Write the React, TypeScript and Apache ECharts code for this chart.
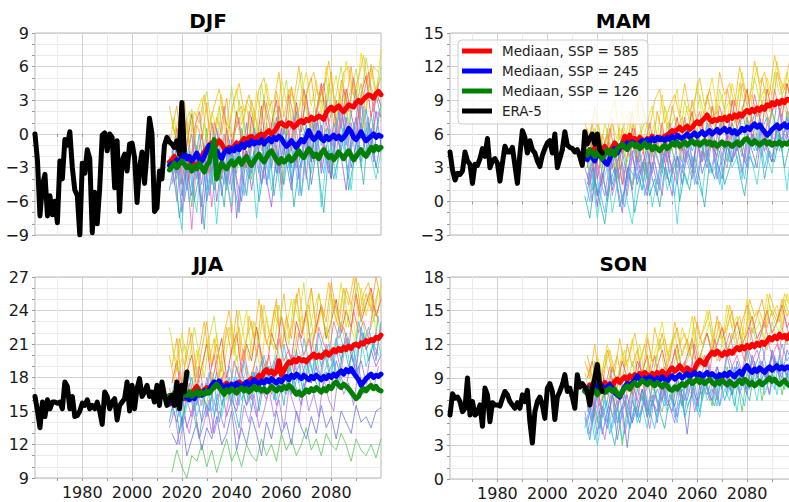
import React, { useEffect, useRef } from 'react';
import * as echarts from 'echarts';

// ---------- data ----------
const ERA_START = 1961;
const MED_START = 2015;
const ENS_YEARS = [2016, 2018, 2020, 2022, 2024, 2026, 2028, 2030, 2032, 2034, 2036, 2038, 2040, 2042, 2044, 2046, 2048, 2050, 2052, 2054, 2056, 2058, 2060, 2062, 2064, 2066, 2068, 2070, 2072, 2074, 2076, 2078, 2080, 2082, 2084, 2086, 2088, 2090, 2092, 2094, 2096, 2098, 2100];
const ENS_YEARS_B = [2015, 2017, 2019, 2021, 2023, 2025, 2027, 2029, 2031, 2033, 2035, 2037, 2039, 2041, 2043, 2045, 2047, 2049, 2051, 2053, 2055, 2057, 2059, 2061, 2063, 2065, 2067, 2069, 2071, 2073, 2075, 2077, 2079, 2081, 2083, 2085, 2087, 2089, 2091, 2093, 2095, 2097, 2099];
const X_TICKS = [1970, 1980, 1990, 2000, 2010, 2020, 2030, 2040, 2050, 2060, 2070, 2080, 2090];
const X_LABELS = [1980, 2000, 2020, 2040, 2060, 2080];
const SERIES_NAMES = ['Mediaan, SSP = 585', 'Mediaan, SSP = 245', 'Mediaan, SSP = 126', 'ERA-5'];
const SERIES_COLORS = ['#ff0000', '#0000ff', '#008000', '#000000'];
const ENS_COLORS = ['#e8dc00', '#ff9a1a', '#f03c3c', '#a8e040', '#3a9ae8', '#4cc84c', '#9a5ae0', '#e060c0', '#30d8d8', '#6070e0'];
const ENS_COLORS_B = ['#ffb000', '#c0e020', '#20b0b0', '#b070f0', '#ff6080', '#40b8ff'];

const DJF_YTICKS = [-9, -6, -3, 0, 3, 6, 9];
const MAM_YTICKS = [-3, 0, 3, 6, 9, 12, 15];
const JJA_YTICKS = [9, 12, 15, 18, 21, 24, 27];
const SON_YTICKS = [0, 3, 6, 9, 12, 15, 18];

const DJF_ERA = [0.0, -2.4, -7.3, -4.5, -3.6, -7.3, -5.5, -7.2, -6.0, -7.9,
  -2.4, -4.0, -0.5, -1.0, 0.2, -3.0, -5.0, -5.5, -9.0, -2.6,
  -3.5, -1.4, -2.2, -8.8, -5.2, -8.0, -4.8, -0.1, 0.1, -1.5,
  0.0, -0.3, -4.8, -0.6, -6.9, -2.4, -1.8, -3.3, -0.9, -0.8,
  -2.1, -6.1, -3.0, -1.6, -4.4, -1.7, 1.4, 0.0, -6.9, -6.6,
  -3.3, -4.0, -1.0, -0.3, -0.7, -0.9, -1.2, -0.6, -1.8, 2.8,
  -1.5];
const MAM_ERA = [4.4, 2.8, 1.9, 2.5, 2.4, 2.7, 4.4, 3.6, 3.3, 1.6,
  3.3, 3.2, 3.8, 4.7, 4.0, 5.6, 3.0, 3.6, 3.8, 3.4,
  1.8, 3.4, 4.9, 4.4, 4.4, 4.8, 3.2, 1.6, 4.2, 6.3,
  5.7, 4.3, 5.4, 4.6, 4.3, 3.6, 3.1, 4.1, 4.7, 5.2,
  5.4, 4.3, 6.0, 3.0, 3.8, 4.6, 6.2, 5.0, 4.8, 4.7,
  4.4, 4.6, 4.0, 3.2, 6.2, 5.1, 5.6, 6.0, 5.1, 6.0,
  4.6, 4.3];
const JJA_ERA = [16.3, 15.0, 13.5, 15.8, 14.5, 16.0, 15.2, 15.8, 15.8, 15.7,
  15.8, 15.2, 17.6, 17.2, 15.2, 16.3, 14.5, 14.6, 15.0, 15.7,
  15.5, 16.0, 15.2, 15.5, 15.2, 15.8, 15.0, 13.8, 16.7, 16.3,
  15.2, 15.8, 16.1, 14.2, 15.5, 15.8, 16.1, 17.6, 15.0, 17.3,
  15.2, 17.0, 17.9, 16.3, 16.7, 17.3, 16.3, 16.7, 15.8, 17.3,
  15.5, 17.6, 16.4, 15.5, 16.1, 16.4, 15.5, 17.6, 15.2, 17.3,
  16.7, 18.5];
const SON_ERA = [5.7, 7.6, 7.2, 7.3, 6.9, 6.0, 6.3, 9.0, 5.7, 6.9,
  5.7, 5.9, 6.6, 4.7, 8.1, 7.5, 5.1, 6.8, 6.6, 6.6,
  6.5, 7.2, 7.8, 7.5, 6.9, 6.6, 6.3, 6.8, 6.3, 7.5,
  6.9, 7.9, 5.1, 3.2, 6.0, 6.9, 7.3, 6.6, 5.4, 8.1,
  8.5, 7.8, 5.3, 7.3, 7.8, 8.4, 9.3, 7.8, 8.1, 7.3,
  6.3, 9.3, 8.2, 8.5, 8.2, 7.8, 6.6, 8.1, 9.0, 10.2,
  8.4, 7.8];

// medians 2015..2100
const DJF_585 = [-2.5, -2.3, -2.0, -2.4, -2.6, -2.2, -1.8, -2.0, -2.3, -2.6,
  -2.7, -2.9, -2.5, -2.0, -1.6, -1.3, -1.0, -0.8, -1.2, -0.9,
  -0.6, -0.9, -1.3, -1.5, -1.2, -1.4, -1.1, -0.8, -1.0, -0.7,
  -0.4, -0.6, -0.3, -0.2, -0.5, -0.3, -0.1, 0.0, -0.2, 0.1,
  0.3, 0.0, 0.2, 0.5, 0.9, 1.0, 0.8, 0.7, 1.0, 0.9,
  0.6, 0.8, 1.1, 1.2, 1.0, 1.3, 1.2, 1.5, 1.3, 1.4,
  1.6, 1.5, 1.3, 1.9, 2.2, 2.4, 2.1, 2.3, 2.5, 2.2,
  2.0, 2.3, 2.6, 2.5, 2.4, 2.8, 3.0, 2.8, 3.1, 3.3,
  3.5, 3.4, 3.2, 3.6, 3.8, 3.5];
const DJF_245 = [-2.8, -2.6, -2.7, -2.3, -2.5, -2.0, -1.8, -2.2, -2.0, -2.4,
  -2.1, -1.7, -2.2, -2.4, -2.0, -1.5, -1.0, -1.3, -1.8, -1.5,
  -1.9, -2.2, -1.7, -1.4, -1.6, -1.3, -1.5, -1.1, -1.4, -0.9,
  -1.2, -0.8, -1.0, -0.6, -0.9, -0.7, -0.8, -0.5, -0.9, -0.6,
  -0.4, -0.7, -0.3, -0.5, -0.2, -0.4, -0.8, -1.1, -0.9, -0.6,
  -0.9, -1.2, -0.8, -0.5, -0.7, -0.3, 0.3, -0.2, -0.5, -0.3,
  0.1, -0.4, -0.6, -0.2, -0.5, -0.3, -0.1, -0.4, -0.2, -0.5,
  -0.3, 0.0, 0.5, 0.2, -0.3, -0.5, -0.2, 0.2, -0.3, -0.6,
  -0.4, -0.2, 0.0, -0.3, -0.1, -0.2];
const DJF_126 = [-3.2, -2.9, -2.6, -3.0, -2.7, -2.4, -2.7, -3.0, -2.8, -3.3,
  -2.9, -3.1, -2.6, -3.0, -3.4, -2.8, -2.5, -1.5, -0.5, -4.0,
  -3.2, -2.6, -2.9, -3.1, -2.7, -2.4, -2.8, -2.5, -2.2, -2.7,
  -2.3, -2.0, -2.5, -2.8, -2.4, -2.1, -1.8, -2.2, -2.5, -2.1,
  -1.7, -1.5, -1.9, -2.3, -2.6, -2.2, -2.5, -2.3, -2.0, -2.4,
  -2.2, -1.8, -1.5, -1.9, -2.1, -1.7, -1.3, -1.6, -2.0, -1.8,
  -2.2, -1.7, -1.4, -1.8, -2.1, -1.9, -2.3, -2.0, -1.6, -1.9,
  -2.2, -1.8, -1.5, -1.9, -2.3, -2.0, -1.7, -1.4, -1.8, -2.0,
  -1.6, -1.2, -1.5, -1.1, -1.4, -1.2];

const MAM_585 = [4.5, 4.2, 4.6, 4.3, 4.8, 4.4, 4.1, 4.6, 4.9, 4.5,
  4.3, 4.8, 5.2, 4.9, 4.6, 5.1, 5.8, 5.5, 5.9, 5.3,
  5.6, 5.4, 5.7, 5.5, 5.3, 5.6, 5.5, 5.8, 5.4, 5.6,
  5.7, 5.5, 5.8, 5.9, 6.1, 6.3, 6.2, 6.4, 6.6, 6.3,
  6.5, 6.7, 6.4, 6.6, 6.9, 7.1, 6.9, 7.2, 7.4, 7.7,
  7.3, 7.1, 7.3, 7.2, 7.4, 7.3, 7.5, 7.2, 7.6, 7.4,
  7.7, 7.5, 7.8, 7.6, 7.9, 8.1, 7.9, 8.2, 8.0, 8.3,
  8.1, 8.4, 8.2, 8.6, 8.5, 8.8, 8.6, 8.9, 8.7, 9.0,
  8.8, 9.1, 9.0, 9.3, 9.2, 9.4];
const MAM_245 = [4.0, 3.7, 4.2, 3.9, 3.6, 4.3, 4.1, 3.8, 3.5, 3.3,
  3.8, 4.4, 4.7, 4.3, 4.9, 5.1, 4.8, 5.2, 5.0, 5.3,
  5.1, 4.9, 5.2, 5.4, 5.2, 5.5, 5.3, 5.6, 5.4, 5.7,
  5.5, 5.6, 5.4, 5.7, 5.5, 5.8, 5.6, 5.9, 5.7, 5.6,
  5.8, 6.0, 5.7, 5.9, 6.1, 5.8, 6.0, 6.2, 5.9, 6.1,
  6.3, 6.0, 6.2, 6.4, 6.1, 6.3, 6.5, 6.2, 6.4, 6.1,
  6.3, 6.0, 6.2, 6.5, 6.3, 6.6, 6.4, 6.7, 6.9, 6.6,
  6.8, 6.5, 6.2, 5.9, 6.1, 6.4, 6.6, 6.8, 6.5, 6.7,
  6.9, 6.6, 6.8, 6.5, 6.7, 6.6];
const MAM_126 = [4.4, 4.1, 4.6, 4.3, 4.0, 4.5, 4.2, 3.8, 4.3, 4.6,
  4.2, 4.5, 4.1, 4.7, 4.9, 5.1, 4.8, 4.6, 5.0, 5.2,
  4.9, 5.1, 4.7, 4.9, 5.2, 4.8, 5.0, 4.6, 4.9, 4.7,
  4.5, 4.8, 5.0, 4.7, 4.9, 5.2, 5.0, 5.3, 4.9, 5.1,
  5.3, 5.0, 5.2, 5.4, 5.1, 5.3, 5.0, 5.2, 5.4, 5.1,
  5.3, 5.0, 5.2, 4.9, 5.1, 5.3, 5.0, 5.2, 5.1, 4.9,
  5.1, 5.3, 5.0, 5.2, 5.5, 5.6, 5.3, 5.1, 5.4, 5.2,
  5.0, 5.2, 5.4, 5.1, 5.3, 5.0, 5.2, 5.1, 5.3, 5.0,
  5.2, 5.1, 5.3, 5.0, 5.2, 5.1];

const JJA_585 = [15.6, 15.9, 16.3, 15.7, 16.0, 16.4, 16.1, 16.5, 16.2, 16.6,
  16.9, 17.2, 16.8, 16.6, 16.9, 17.1, 17.0, 17.3, 17.1, 17.4,
  17.2, 17.0, 17.3, 17.5, 17.2, 17.4, 17.1, 17.3, 17.6, 17.4,
  17.2, 17.5, 17.7, 17.9, 17.6, 17.9, 18.2, 18.0, 18.5, 18.7,
  18.4, 18.6, 18.3, 18.5, 19.5, 18.2, 18.6, 19.1, 19.4, 19.3,
  19.6, 19.4, 19.7, 19.5, 19.6, 19.4, 19.7, 19.9, 20.1, 19.8,
  20.0, 19.8, 20.1, 20.3, 20.0, 20.2, 20.5, 20.3, 20.6, 20.4,
  20.7, 20.5, 20.8, 20.6, 20.9, 21.0, 20.8, 21.1, 21.0, 21.3,
  21.2, 21.4, 21.3, 21.6, 21.5, 21.8];
const JJA_245 = [16.0, 15.7, 16.2, 15.9, 16.4, 16.1, 16.5, 16.2, 16.0, 16.4,
  16.1, 16.5, 16.7, 16.4, 16.8, 16.6, 16.9, 17.3, 17.6, 17.4,
  17.7, 17.2, 17.0, 17.3, 17.1, 17.4, 17.2, 17.5, 17.3, 17.1,
  17.4, 17.6, 17.3, 17.5, 17.8, 17.6, 17.4, 17.7, 17.5, 17.8,
  17.6, 17.9, 17.7, 17.5, 17.8, 17.6, 17.9, 18.1, 17.8, 18.2,
  18.0, 18.3, 18.1, 17.9, 18.2, 18.0, 17.8, 18.1, 17.9, 18.2,
  18.0, 17.8, 18.1, 17.9, 18.2, 18.0, 18.3, 18.1, 18.4, 18.6,
  18.3, 18.7, 18.5, 18.8, 18.4, 18.1, 17.8, 17.3, 17.6, 17.9,
  18.1, 18.3, 18.0, 18.2, 18.1, 18.3];
const JJA_126 = [16.4, 16.2, 16.6, 16.3, 16.5, 16.2, 16.6, 16.4, 16.7, 16.3,
  16.5, 16.8, 16.4, 16.7, 16.5, 16.8, 16.6, 16.9, 17.2, 17.4,
  17.1, 16.8, 16.5, 16.9, 16.7, 17.0, 16.8, 16.6, 16.9, 17.1,
  16.8, 17.0, 16.7, 16.9, 17.2, 16.9, 17.1, 16.8, 17.0, 16.7,
  16.9, 17.2, 17.0, 16.8, 17.1, 16.9, 17.2, 17.0, 17.3, 17.1,
  16.8, 16.5, 16.7, 16.4, 16.6, 16.9, 16.7, 17.0, 16.8, 17.1,
  16.9, 16.7, 17.0, 16.8, 17.2, 17.0, 17.4, 17.6, 17.3, 17.1,
  17.4, 17.2, 17.0, 16.7, 16.4, 16.1, 16.3, 16.8, 17.0, 16.8,
  17.1, 17.3, 17.0, 17.2, 16.9, 16.8];

const SON_585 = [8.2, 7.9, 8.4, 8.1, 7.8, 8.3, 8.5, 8.2, 8.6, 8.3,
  8.5, 8.2, 8.7, 8.9, 8.6, 8.9, 9.1, 8.8, 9.2, 9.0,
  9.3, 9.1, 9.4, 9.2, 9.5, 9.3, 9.1, 9.4, 9.2, 9.5,
  9.3, 9.6, 9.4, 9.2, 9.7, 9.9, 9.6, 9.8, 10.1, 9.8,
  9.6, 9.9, 9.7, 9.5, 9.8, 10.3, 10.6, 10.4, 10.2, 10.7,
  11.0, 11.3, 11.1, 11.4, 11.2, 11.0, 11.3, 11.1, 11.4, 11.2,
  11.5, 11.7, 11.5, 11.8, 11.6, 11.9, 11.7, 12.0, 11.8, 12.1,
  11.9, 12.2, 12.0, 12.3, 12.6, 12.4, 12.7, 12.5, 12.9, 12.6,
  12.8, 12.5, 12.9, 12.6, 12.4, 12.7];
const SON_245 = [7.9, 8.1, 7.8, 8.2, 8.0, 8.4, 8.1, 8.3, 7.9, 8.2,
  8.4, 8.1, 7.7, 7.5, 7.3, 7.8, 8.2, 8.5, 8.3, 8.6,
  8.8, 9.2, 8.9, 8.7, 9.0, 8.8, 9.1, 8.9, 8.7, 9.0,
  8.8, 9.1, 8.9, 8.7, 9.0, 9.2, 8.9, 9.1, 9.3, 9.0,
  9.2, 9.4, 9.1, 9.3, 9.5, 9.2, 9.4, 9.1, 9.3, 9.5,
  9.2, 9.4, 9.2, 9.0, 9.3, 9.1, 9.4, 9.2, 9.5, 9.3,
  9.1, 9.4, 9.6, 9.3, 9.8, 10.1, 9.7, 9.5, 9.8, 9.6,
  9.9, 9.7, 9.5, 9.8, 10.0, 9.7, 9.9, 10.1, 9.8, 10.0,
  9.8, 10.0, 9.9, 9.7, 9.6, 9.8];
const SON_126 = [7.8, 7.6, 8.0, 7.7, 7.9, 7.5, 7.8, 8.0, 7.7, 7.9,
  8.1, 7.8, 8.0, 7.6, 7.4, 7.8, 8.1, 8.3, 8.0, 8.4,
  8.6, 8.3, 8.5, 8.8, 8.6, 8.4, 8.7, 8.5, 8.3, 8.6,
  8.4, 8.2, 8.5, 8.3, 8.0, 7.9, 8.2, 8.0, 8.3, 8.5,
  8.3, 8.6, 8.8, 8.5, 8.7, 8.9, 8.6, 8.8, 8.5, 8.7,
  8.9, 8.6, 8.4, 8.7, 8.5, 8.8, 8.6, 8.4, 8.7, 8.5,
  8.3, 8.6, 8.8, 8.5, 8.9, 8.7, 8.4, 8.6, 8.3, 8.5,
  8.7, 8.4, 8.6, 8.8, 9.0, 8.7, 8.9, 8.6, 8.4, 8.6,
  8.8, 8.5, 8.3, 8.5, 8.2, 8.1];

// ensemble members on ENS_YEARS (even years)
const DJF_ENS = [
  [1.5, -1.0, 2.8, 0.2, -2.5, 1.8, 3.2, -0.5, 2.0, 0.5, 3.5, -1.2, 2.2, 4.0, 0.8, 2.5, -0.8, 3.8, 1.5, 4.5, 2.0, 0.3, 5.0, 2.8, 4.2, 1.0, 3.6, 5.5, 2.5, 4.8, 1.8, 6.0, 3.5, 5.2, 2.2, 6.5, 4.0, 2.8, 7.2, 4.5, 5.8, 3.2, 7.5],
  [0.5, 2.5, -1.5, 1.2, -3.0, 0.8, -0.5, 2.8, -2.0, 1.5, 0.0, 3.2, -1.0, 1.8, 2.5, -0.5, 3.0, 1.0, -1.5, 2.8, 0.5, 3.8, 1.5, -0.2, 4.2, 2.0, 0.8, 3.5, 5.0, 1.5, 4.0, 2.2, 5.5, 0.8, 4.8, 3.0, 6.0, 2.5, 4.5, 1.8, 6.2, 3.8, 5.0],
  [-2.0, 0.5, -4.5, -1.0, 1.8, -2.5, 0.0, -3.5, 1.0, -1.5, -4.0, 0.5, -2.0, 2.0, -0.5, -3.0, 1.5, -1.0, 2.5, -2.0, 0.8, 3.0, -0.8, 1.5, -1.5, 2.8, 0.2, 3.5, -0.5, 2.0, 4.5, 1.0, -1.0, 3.0, 0.5, 4.0, 1.8, -0.2, 3.5, 5.2, 1.5, 3.8, 2.5],
  [1.0, -0.5, 3.0, 0.0, 2.2, -1.8, 1.5, 3.8, 0.5, -1.0, 2.5, 0.8, 4.2, 1.0, -0.5, 3.0, 2.0, 0.0, 4.5, 1.2, 3.0, -0.5, 2.5, 4.8, 1.0, 3.2, 5.5, 2.0, 0.5, 4.0, 2.8, 5.0, 1.5, 3.5, 6.0, 2.5, 4.0, 5.8, 3.0, 6.8, 4.2, 2.8, 6.0],
  [-3.5, -1.0, -5.5, -2.0, 0.0, -4.0, -1.5, -6.0, -2.5, 0.5, -3.0, -1.0, -5.0, -0.5, -2.5, 1.0, -3.5, -1.0, 0.5, -4.5, -1.5, 1.5, -2.0, -0.5, -3.0, 2.0, -1.0, 0.8, -2.5, 1.5, -0.5, 3.0, -1.5, 0.5, 2.5, -1.0, 1.8, 4.0, 0.0, 2.2, -0.5, 3.5, 1.5],
  [-1.5, -4.0, -0.5, -2.5, -6.5, -1.0, -3.0, 0.5, -4.5, -2.0, -0.5, -5.0, -1.5, -3.5, 0.5, -2.0, -4.0, -0.5, -2.5, 1.0, -3.0, -1.0, -4.5, 0.5, -1.5, -3.0, 1.2, -0.5, -2.5, 2.0, -1.0, 0.5, -3.5, 1.5, -0.5, 2.5, -1.5, 0.8, 3.0, -0.8, 1.5, 0.0, 2.5],
  [-4.5, -2.0, -7.0, -3.0, -5.5, -1.5, -8.0, -3.5, -1.0, -6.0, -2.5, -4.5, -0.5, -7.5, -3.0, -1.5, -5.0, -2.0, -0.5, -4.0, -6.5, -1.5, -3.0, 0.0, -4.5, -2.0, -5.5, -0.5, -2.5, 1.0, -3.5, -1.0, -4.0, 0.5, -2.0, -5.0, -0.5, 1.5, -2.5, 0.0, -1.5, 2.0, -1.0],
  [-2.5, -6.0, -1.0, -3.5, -8.5, -2.0, -4.5, -0.5, -6.5, -2.5, -1.0, -4.0, -7.0, -1.5, -3.0, -5.5, 0.0, -2.5, -4.5, -1.0, -3.0, 0.5, -5.0, -1.5, 1.0, -2.5, -0.5, -4.0, 1.5, -1.0, -3.0, 2.0, 0.0, -2.0, 2.5, -0.5, 1.0, -2.5, 3.0, 0.5, -1.0, 2.0, 1.5],
  [-3.0, -5.5, -8.5, -2.0, -4.5, -7.0, -1.5, -5.0, -3.0, -8.0, -2.5, -4.0, -6.5, -1.0, -3.5, -5.5, -2.0, -7.5, -3.0, -1.0, -5.0, -2.5, -6.0, -1.5, -4.0, -0.5, -5.5, -2.0, -3.5, -0.5, -6.5, -2.5, -1.0, -4.0, 0.0, -2.5, -5.0, -0.5, -3.0, 0.5, -2.0, -4.0, -1.5],
  [-1.0, -3.5, -0.5, -5.0, -2.0, -3.0, -6.5, -1.0, -3.5, -0.5, -5.5, -2.0, -1.0, -4.0, -6.0, -1.5, -3.0, 0.0, -4.5, -2.0, -0.5, -3.5, 0.5, -2.5, -5.0, -1.0, -3.0, 0.5, -4.5, -1.5, 0.8, -2.0, -4.0, 0.0, -1.5, 1.5, -3.0, -1.0, 1.0, -2.0, 0.5, -3.0, -0.5],
];
const MAM_ENS = [
  [6.5, 4.0, 7.5, 5.0, 3.5, 7.0, 5.5, 8.0, 4.5, 6.5, 9.0, 5.0, 7.0, 8.5, 5.5, 9.5, 6.5, 8.0, 10.0, 6.0, 8.5, 7.0, 10.5, 7.5, 9.0, 11.0, 8.0, 9.5, 7.0, 10.5, 8.5, 11.5, 9.0, 10.0, 12.0, 8.5, 11.0, 9.5, 12.5, 10.0, 11.5, 9.0, 12.5],
  [5.0, 7.0, 3.5, 6.0, 4.5, 7.5, 3.0, 6.5, 5.0, 8.0, 4.0, 6.5, 7.5, 4.5, 8.0, 6.0, 5.0, 8.5, 6.5, 7.5, 5.5, 9.0, 7.0, 6.0, 9.5, 7.5, 8.0, 6.5, 10.0, 8.0, 7.0, 10.5, 8.5, 9.5, 7.5, 11.0, 9.0, 8.0, 11.5, 9.5, 10.5, 8.5, 11.0],
  [3.0, 5.5, 2.0, 4.5, 6.0, 3.0, 5.0, 1.5, 4.0, 6.5, 3.5, 5.0, 2.5, 6.0, 4.5, 7.0, 3.5, 5.5, 7.5, 4.5, 6.0, 8.0, 5.0, 7.0, 4.0, 8.5, 6.0, 7.5, 5.5, 9.0, 6.5, 8.0, 10.0, 7.0, 8.5, 6.5, 10.0, 8.0, 9.0, 7.5, 10.5, 8.5, 9.5],
  [4.5, 2.0, 5.5, 3.0, 6.5, 4.0, 2.5, 5.5, 3.5, 6.0, 4.5, 2.5, 6.0, 4.0, 5.5, 3.0, 7.0, 4.5, 6.0, 3.5, 7.0, 5.0, 6.5, 4.0, 7.5, 5.5, 4.5, 8.0, 6.0, 7.0, 5.0, 8.5, 6.5, 7.5, 5.5, 9.0, 7.0, 8.0, 6.0, 9.5, 7.5, 8.5, 7.0],
  [2.0, 4.0, 0.5, 3.0, 5.0, 1.5, 3.5, 4.5, 2.0, 5.5, 3.0, 1.0, 4.5, 2.5, 5.5, 3.5, 2.0, 6.0, 4.0, 3.0, 6.5, 4.5, 5.5, 3.5, 7.0, 5.0, 4.0, 7.5, 5.5, 6.5, 4.5, 8.0, 6.0, 5.0, 8.5, 6.5, 7.5, 5.5, 9.0, 7.0, 6.0, 9.5, 7.5],
  [3.5, 1.0, 4.5, 2.5, 0.0, 4.0, 2.0, 5.0, 3.0, 1.5, 5.0, 3.5, 2.0, 5.5, 4.0, 2.5, 6.0, 4.5, 3.0, 5.5, 4.0, 2.5, 6.0, 5.0, 3.5, 6.5, 4.5, 5.5, 3.5, 7.0, 5.5, 4.0, 7.5, 6.0, 5.0, 7.0, 5.5, 8.0, 6.5, 4.5, 8.0, 6.0, 7.5],
  [1.0, 3.0, -0.5, 2.5, 0.5, 4.0, 1.5, -1.0, 3.0, 1.0, 4.0, 2.0, 0.5, 3.5, 1.5, 4.5, 2.5, 0.5, 4.0, 2.5, 5.0, 3.0, 1.5, 4.5, 3.0, 5.5, 2.0, 4.0, 6.0, 3.5, 5.0, 2.5, 6.0, 4.5, 3.0, 6.5, 4.5, 3.5, 7.0, 5.0, 6.0, 4.0, 7.0],
  [2.5, 0.0, 3.5, 1.5, 4.5, 0.5, 2.5, 3.5, 0.5, 4.0, 2.0, 3.5, 1.0, 4.5, 2.5, 0.5, 4.5, 3.0, 1.5, 5.0, 3.5, 2.0, 5.5, 3.5, 4.5, 2.5, 6.0, 4.0, 3.0, 6.0, 4.5, 5.5, 3.5, 6.5, 5.0, 4.0, 7.0, 5.5, 4.5, 7.5, 6.0, 5.0, 7.0],
  [0.0, 2.5, -1.5, 1.5, 3.0, -1.0, 1.5, 3.5, 0.0, -2.0, 2.5, 1.0, 3.5, -0.5, 2.0, 4.0, 1.0, 2.5, -2.0, 3.0, 1.5, 4.0, 2.0, 0.5, 4.5, 2.5, 3.5, 1.0, 5.0, 3.0, 4.0, 2.0, 5.5, 3.5, 1.5, 5.0, 4.0, 2.5, 6.0, 4.5, 1.0, 5.5, 4.5],
  [1.5, 3.5, 0.5, 2.0, 4.5, 1.0, 3.0, 0.0, 2.5, 4.5, 1.5, 3.0, 5.0, 2.0, 0.5, 3.5, 5.0, 2.5, 4.0, 1.5, 4.5, 3.0, 5.5, 2.5, 4.0, 6.0, 3.5, 2.0, 5.0, 3.5, 6.5, 4.5, 3.0, 6.0, 4.5, 7.0, 5.0, 3.5, 6.5, 5.5, 7.5, 4.5, 6.0],
];
const JJA_ENS = [
  [21.0, 18.5, 22.0, 19.5, 17.0, 20.5, 18.0, 21.5, 19.0, 22.0, 17.5, 20.5, 23.0, 19.5, 21.5, 24.0, 20.0, 22.5, 19.0, 23.5, 21.0, 24.5, 20.5, 22.5, 25.0, 21.5, 23.5, 20.5, 26.0, 22.0, 24.0, 21.5, 25.5, 23.0, 26.5, 22.5, 24.5, 21.5, 26.0, 23.5, 25.5, 22.0, 26.5],
  [19.0, 21.5, 17.5, 20.0, 22.0, 18.0, 20.5, 23.0, 19.0, 21.0, 18.5, 22.5, 20.0, 24.0, 19.5, 21.5, 23.0, 20.0, 24.5, 21.0, 22.5, 25.0, 20.5, 23.5, 21.5, 25.5, 22.0, 24.0, 26.0, 22.5, 24.5, 23.0, 26.5, 24.0, 22.5, 26.0, 24.5, 27.0, 23.5, 25.5, 24.0, 27.0, 25.0],
  [17.5, 19.5, 16.0, 18.5, 20.0, 17.0, 19.0, 21.0, 17.5, 19.5, 21.5, 18.0, 20.5, 22.0, 18.5, 21.0, 19.5, 22.5, 20.0, 18.5, 22.0, 20.5, 23.5, 21.0, 19.5, 23.0, 21.5, 24.0, 20.5, 22.5, 24.5, 21.5, 23.0, 25.0, 22.0, 24.0, 22.5, 25.5, 23.0, 24.5, 26.0, 23.5, 25.0],
  [16.0, 18.0, 15.0, 17.5, 16.0, 19.0, 16.5, 15.5, 18.5, 17.0, 19.5, 16.0, 18.0, 20.0, 17.0, 19.0, 17.5, 20.5, 18.0, 19.5, 17.5, 21.0, 19.0, 20.0, 18.5, 21.5, 19.5, 20.5, 22.0, 19.0, 21.0, 22.5, 20.0, 21.5, 23.0, 20.5, 22.5, 21.0, 23.5, 21.5, 22.5, 24.0, 22.0],
  [15.0, 17.0, 14.0, 16.5, 18.0, 15.5, 17.5, 14.5, 16.5, 18.5, 15.5, 17.5, 16.0, 19.0, 17.0, 15.5, 18.5, 17.0, 19.5, 16.5, 18.0, 20.0, 17.5, 19.0, 16.5, 20.5, 18.0, 19.5, 17.5, 21.0, 19.0, 20.0, 18.0, 21.5, 19.5, 22.0, 20.0, 18.5, 22.5, 20.5, 21.5, 19.5, 23.0],
  [9.5, 11.5, 10.0, 9.0, 11.0, 10.5, 12.0, 10.0, 11.5, 9.5, 11.0, 12.5, 10.5, 11.5, 10.0, 12.0, 11.0, 10.5, 12.5, 11.0, 12.0, 10.5, 13.0, 11.5, 12.5, 11.0, 12.0, 13.5, 11.5, 12.5, 11.0, 13.0, 12.0, 11.5, 13.0, 12.0, 10.5, 12.5, 11.5, 11.0, 12.0, 10.8, 12.5],
  [15.5, 14.0, 16.5, 13.5, 15.0, 16.5, 14.0, 15.5, 13.0, 16.0, 17.0, 14.5, 16.0, 15.0, 17.5, 15.5, 16.5, 14.5, 17.0, 16.0, 18.0, 15.5, 17.0, 16.5, 18.5, 17.0, 15.5, 18.0, 17.5, 19.0, 16.5, 18.5, 17.0, 19.5, 18.0, 17.0, 20.0, 18.5, 19.5, 17.5, 20.5, 19.0, 20.0],
  [16.5, 15.0, 17.5, 16.0, 14.5, 17.0, 15.5, 18.0, 16.5, 15.0, 18.0, 16.5, 17.5, 15.5, 18.5, 17.0, 16.0, 19.0, 17.5, 18.5, 16.5, 19.5, 18.0, 17.0, 20.0, 18.5, 19.5, 17.5, 20.5, 19.0, 18.0, 21.0, 19.5, 20.5, 18.5, 21.5, 20.0, 19.0, 22.0, 20.5, 21.5, 20.0, 22.5],
  [14.5, 16.5, 13.5, 15.5, 17.0, 14.5, 16.0, 17.5, 15.0, 16.5, 14.5, 17.0, 15.5, 18.0, 16.0, 17.5, 15.0, 18.5, 16.5, 17.5, 19.0, 16.0, 18.0, 19.5, 17.0, 18.5, 16.5, 19.5, 18.0, 20.0, 17.5, 19.0, 20.5, 18.0, 19.5, 21.0, 18.5, 20.0, 21.5, 19.0, 20.5, 22.0, 20.0],
  [13.0, 12.0, 14.5, 11.0, 12.5, 14.0, 11.5, 13.5, 12.5, 14.5, 12.0, 13.0, 15.0, 11.5, 13.5, 12.0, 14.5, 13.0, 11.0, 14.0, 12.5, 15.0, 13.0, 14.0, 12.0, 15.0, 13.5, 12.5, 14.5, 13.0, 15.5, 13.5, 14.5, 12.5, 15.0, 14.0, 13.0, 15.5, 14.0, 14.5, 13.5, 15.0, 15.3],
];
const SON_ENS = [
  [10.0, 8.5, 11.0, 9.5, 12.0, 10.0, 8.5, 11.5, 10.0, 12.5, 9.5, 11.0, 13.0, 10.5, 12.0, 14.0, 11.0, 12.5, 10.5, 13.5, 12.0, 14.5, 11.5, 13.0, 15.0, 12.5, 14.0, 12.0, 15.5, 13.5, 14.5, 12.5, 16.0, 14.0, 15.0, 13.0, 16.5, 14.5, 15.5, 13.5, 16.5, 15.0, 17.0],
  [11.0, 9.0, 10.5, 8.0, 11.5, 9.5, 11.0, 8.5, 12.0, 10.0, 11.5, 9.0, 12.5, 10.5, 11.0, 13.0, 10.0, 12.0, 13.5, 11.0, 12.5, 10.5, 14.0, 12.0, 13.0, 11.5, 14.5, 12.5, 13.5, 15.0, 12.0, 14.0, 15.5, 13.0, 14.5, 16.0, 13.5, 15.0, 14.0, 16.0, 14.5, 15.5, 14.0],
  [9.0, 10.5, 8.0, 9.5, 7.5, 10.0, 8.5, 10.5, 9.0, 7.5, 10.5, 9.5, 11.0, 8.5, 10.0, 11.5, 9.5, 10.5, 12.0, 9.5, 11.0, 12.5, 10.0, 11.5, 13.0, 11.0, 12.0, 13.5, 11.5, 12.5, 14.0, 12.0, 13.0, 14.5, 12.5, 13.5, 15.0, 13.0, 14.0, 15.5, 13.5, 14.5, 15.0],
  [8.0, 6.5, 9.0, 7.0, 8.5, 10.0, 7.5, 9.0, 8.0, 10.5, 8.5, 7.0, 10.0, 9.0, 11.0, 8.5, 10.0, 9.5, 11.5, 9.0, 10.5, 12.0, 9.5, 11.0, 10.0, 12.5, 10.5, 12.0, 11.0, 13.0, 11.5, 12.5, 10.5, 13.5, 12.0, 13.0, 11.5, 14.0, 12.5, 13.5, 12.0, 14.5, 13.0],
  [7.0, 5.5, 8.0, 6.0, 4.5, 7.5, 6.0, 8.5, 6.5, 5.0, 8.0, 7.0, 9.0, 6.5, 8.0, 7.0, 9.5, 7.5, 8.5, 6.5, 10.0, 8.0, 9.0, 7.5, 10.5, 8.5, 9.5, 8.0, 11.0, 9.0, 10.0, 8.5, 11.5, 9.5, 10.5, 12.0, 9.5, 11.0, 10.0, 12.0, 10.5, 11.5, 11.0],
  [6.0, 7.5, 5.0, 7.0, 8.5, 5.5, 7.0, 3.0, 6.5, 8.0, 6.0, 7.5, 5.5, 8.5, 7.0, 6.0, 8.5, 7.0, 9.0, 6.5, 8.0, 7.5, 9.5, 7.0, 8.5, 6.5, 9.0, 8.0, 10.0, 7.5, 9.0, 6.0, 9.5, 8.5, 10.0, 7.0, 9.5, 8.5, 10.5, 7.5, 9.5, 8.0, 10.0],
  [5.0, 7.0, 4.0, 6.5, 5.0, 7.5, 3.5, 6.0, 7.5, 5.0, 6.5, 8.0, 5.5, 7.0, 6.0, 8.5, 6.5, 7.5, 5.5, 8.0, 7.0, 9.0, 6.5, 8.5, 7.5, 9.0, 7.0, 9.5, 8.0, 10.0, 8.5, 9.5, 7.5, 10.5, 9.0, 10.0, 8.5, 11.0, 9.5, 10.5, 9.0, 11.5, 10.0],
  [7.5, 6.0, 8.5, 5.5, 7.0, 9.0, 6.5, 7.5, 5.5, 8.5, 7.0, 9.5, 6.5, 8.0, 9.0, 7.0, 8.5, 10.0, 7.5, 9.0, 8.0, 10.5, 8.5, 9.5, 11.0, 9.0, 10.0, 8.5, 11.5, 10.0, 11.0, 9.5, 12.0, 10.5, 11.5, 10.0, 12.5, 11.0, 12.0, 10.5, 13.0, 11.5, 12.0],
  [4.0, 6.0, 3.0, 5.5, 7.0, 4.5, 6.5, 3.5, 5.5, 7.5, 5.0, 6.5, 4.5, 7.0, 5.5, 8.0, 6.0, 7.0, 5.0, 8.5, 6.5, 7.5, 6.0, 9.0, 7.0, 8.0, 6.5, 9.5, 7.5, 8.5, 6.0, 9.5, 8.0, 9.0, 7.0, 10.0, 8.5, 9.5, 7.5, 10.5, 9.0, 10.0, 8.5],
  [6.5, 5.0, 7.5, 4.0, 6.0, 8.0, 5.0, 6.5, 2.8, 7.0, 5.5, 8.0, 6.0, 7.5, 5.0, 8.5, 7.0, 6.0, 9.0, 7.5, 4.0, 8.0, 7.0, 9.5, 8.0, 7.0, 10.0, 8.5, 9.0, 7.5, 10.5, 9.0, 8.0, 11.0, 9.5, 10.5, 9.0, 11.5, 10.0, 9.0, 11.5, 10.5, 11.0],
];

// more ensemble members on ENS_YEARS_B (odd years)
const DJF_ENS_B = [
  [2.5, 0.0, 1.5, 3.0, -1.0, 2.0, 1.0, 3.5, 0.5, 2.5, 4.0, 1.5, 0.5, 3.0, 4.5, 2.0, 3.5, 1.0, 4.0, 5.0, 2.5, 3.0, 5.5, 1.5, 4.0, 3.0, 6.0, 2.5, 4.5, 5.5, 3.0, 4.0, 6.5, 3.5, 2.0, 5.5, 6.0, 3.5, 5.0, 7.0, 4.0, 6.0, 5.5],
  [-1.0, 1.5, -2.5, 0.5, 2.0, -0.5, -3.0, 1.0, -1.5, 0.0, 2.5, -2.0, 1.0, -0.5, 3.0, 0.5, -1.5, 2.0, 0.0, 3.5, -1.0, 1.5, 2.5, 0.0, 3.0, -0.5, 2.0, 4.0, 1.0, -0.5, 3.5, 2.0, 4.5, 0.5, 2.5, 3.5, 1.0, 5.0, 2.5, 0.5, 4.0, 3.0, 5.0],
  [-5.0, -2.5, -7.5, -4.0, -1.5, -6.0, -3.5, -8.5, -2.0, -5.0, -3.0, -6.5, -1.0, -4.5, -7.0, -2.5, -4.0, -1.5, -6.0, -3.0, -0.5, -5.5, -2.5, -4.5, -1.0, -6.5, -3.0, -2.0, -5.0, 0.0, -3.5, -7.0, -1.5, -4.0, -2.0, 0.5, -5.0, -2.5, -1.0, -4.5, 1.0, -2.0, -3.5],
  [-2.0, -4.5, -1.0, -6.0, -3.0, -0.5, -4.0, -2.0, -5.5, -1.5, -3.5, 0.0, -4.5, -2.5, -6.5, -1.0, -3.0, 0.5, -2.0, -4.0, -1.5, 1.0, -3.5, -0.5, -2.5, 1.5, -4.0, -1.0, 0.5, -2.5, 2.0, -1.5, -3.5, 1.0, -0.5, 2.5, -2.0, 0.0, 3.0, -1.0, 1.5, -2.5, 2.0],
  [0.0, -2.5, 1.5, -1.0, -4.0, 0.5, 2.0, -1.5, -3.5, 1.0, -0.5, 2.5, -2.0, 0.0, 1.5, -3.0, 2.0, 0.5, -1.0, 3.0, 1.0, -2.0, 2.5, 0.0, 3.5, 1.5, -1.0, 4.0, 2.0, 0.5, 3.0, 4.5, 1.0, 2.5, -0.5, 4.0, 2.0, 5.0, 1.5, 3.5, 5.5, 2.0, 4.5],
  [-3.0, -1.0, -4.5, -2.0, -6.0, -2.5, 0.0, -3.5, -5.0, -1.5, -2.5, -4.5, -0.5, -3.0, -1.5, -5.5, -2.0, 0.5, -3.5, -1.0, -4.0, -0.5, -2.5, 1.0, -3.0, -1.5, -5.5, 0.0, -2.0, 1.5, -1.0, -3.5, 0.5, -2.5, 2.0, -0.5, -4.0, 1.0, -1.5, 2.5, 0.0, -2.0, 1.5],
];
const MAM_ENS_B = [
  [7.0, 5.5, 8.5, 6.0, 4.5, 7.5, 9.0, 5.5, 7.0, 8.0, 6.0, 9.5, 7.5, 6.5, 9.0, 10.0, 7.0, 8.5, 9.5, 7.5, 10.5, 8.0, 9.0, 11.0, 8.5, 10.0, 7.5, 11.5, 9.5, 10.5, 8.5, 12.0, 10.0, 9.0, 12.5, 10.5, 11.5, 9.5, 13.0, 11.0, 10.0, 12.5, 11.5],
  [5.5, 3.5, 6.5, 4.0, 7.0, 5.0, 3.0, 6.5, 5.5, 7.5, 4.5, 6.0, 8.0, 5.5, 7.0, 4.5, 8.5, 6.5, 7.5, 5.5, 9.0, 7.0, 6.0, 9.5, 7.5, 8.5, 6.5, 10.0, 8.0, 9.0, 7.0, 10.5, 8.5, 7.5, 11.0, 9.0, 10.0, 8.0, 11.5, 9.5, 10.5, 8.5, 11.0],
  [0.5, -1.5, 2.0, 0.0, -2.0, 1.5, 3.0, -0.5, 1.0, 2.5, -1.0, 1.5, 3.5, 0.5, 2.0, -0.5, 3.0, 1.5, 4.0, 0.0, 2.5, 1.0, 4.0, 2.0, -0.5, 3.5, 2.0, 4.5, 1.5, 3.0, 5.0, 2.5, 0.5, 4.0, 3.0, 5.5, 2.0, 4.5, 3.5, 6.0, 3.0, 5.0, 4.0],
  [3.0, 1.5, 4.0, 2.0, 0.5, 3.5, 2.5, 4.5, 1.0, 3.0, 5.0, 2.5, 4.0, 1.5, 4.5, 3.0, 5.5, 2.5, 4.0, 6.0, 3.5, 5.0, 2.5, 5.5, 4.0, 6.5, 3.5, 5.0, 4.5, 7.0, 4.0, 5.5, 3.5, 6.5, 5.0, 7.5, 4.5, 6.0, 5.5, 8.0, 5.0, 6.5, 7.0],
  [4.0, 6.0, 2.5, 5.0, 3.5, 6.5, 4.5, 2.0, 5.5, 4.0, 6.5, 3.5, 5.0, 7.0, 4.5, 6.0, 3.5, 7.0, 5.5, 4.5, 7.5, 5.0, 6.5, 8.0, 5.5, 7.0, 6.0, 8.5, 6.5, 5.5, 9.0, 7.0, 8.0, 6.5, 9.5, 7.5, 8.5, 7.0, 10.0, 8.0, 9.0, 7.5, 10.0],
  [2.0, 0.0, 3.0, 1.0, -1.0, 2.5, 4.0, 1.5, -0.5, 3.0, 2.0, 4.5, 0.5, 2.5, 3.5, 1.0, 4.5, 2.5, 0.5, 4.0, 3.0, 5.0, 1.5, 3.5, 5.5, 2.5, 4.0, 1.5, 5.0, 3.5, 6.0, 4.0, 2.0, 5.5, 4.5, 6.5, 3.0, 5.0, 7.0, 4.5, 6.0, 5.0, 7.5],
];
const JJA_ENS_B = [
  [20.0, 17.5, 21.5, 19.0, 22.5, 18.5, 20.5, 23.0, 19.5, 21.5, 18.0, 22.0, 24.0, 20.5, 22.5, 19.5, 23.5, 21.5, 25.0, 22.0, 20.5, 24.0, 22.5, 25.5, 21.5, 23.5, 26.0, 22.5, 24.5, 21.5, 25.5, 23.5, 26.5, 24.0, 22.5, 26.0, 24.5, 27.0, 23.5, 25.5, 26.5, 24.0, 26.0],
  [22.5, 20.0, 18.5, 21.0, 19.5, 22.5, 20.0, 18.0, 21.5, 23.5, 19.5, 21.0, 22.5, 20.0, 24.0, 21.5, 19.5, 23.0, 21.0, 24.5, 22.0, 20.5, 24.5, 22.5, 21.0, 25.0, 23.0, 26.5, 22.0, 24.0, 25.5, 23.0, 21.5, 25.0, 23.5, 26.0, 22.5, 25.0, 26.5, 24.0, 25.5, 23.0, 26.0],
  [14.0, 16.5, 13.0, 15.0, 17.0, 14.5, 12.5, 16.0, 15.0, 17.5, 14.0, 16.5, 18.0, 15.5, 13.5, 17.0, 16.0, 18.5, 15.0, 17.5, 19.0, 16.0, 18.0, 15.5, 19.5, 17.0, 18.5, 16.5, 20.0, 18.0, 17.0, 20.5, 18.5, 19.5, 17.5, 21.0, 19.0, 20.5, 18.0, 22.0, 19.5, 21.0, 20.0],
  [13.5, 15.0, 12.0, 14.5, 13.0, 15.5, 12.5, 14.0, 16.0, 13.0, 15.0, 13.5, 16.5, 14.5, 12.5, 15.5, 14.0, 16.5, 13.5, 15.0, 17.0, 14.5, 16.0, 13.5, 17.0, 15.5, 14.0, 17.5, 15.0, 16.5, 14.5, 18.0, 16.0, 15.0, 18.5, 16.5, 17.5, 15.5, 19.0, 16.5, 18.0, 17.0, 19.0],
  [17.0, 15.5, 18.5, 16.0, 17.5, 15.0, 19.0, 16.5, 18.0, 20.0, 17.0, 18.5, 16.5, 19.5, 18.0, 20.5, 17.5, 19.0, 21.0, 18.5, 20.0, 17.5, 21.5, 19.5, 20.5, 18.5, 22.0, 20.0, 21.5, 19.5, 22.5, 21.0, 20.0, 23.0, 21.5, 22.5, 20.5, 24.0, 22.0, 23.0, 21.5, 24.5, 23.0],
  [15.5, 17.5, 14.5, 16.0, 18.5, 15.0, 17.0, 16.0, 18.5, 14.5, 17.5, 16.0, 19.0, 17.5, 15.5, 19.5, 17.0, 18.5, 16.5, 20.0, 18.0, 19.5, 17.0, 21.0, 18.5, 20.0, 17.5, 21.5, 19.5, 18.0, 22.0, 20.0, 21.0, 19.0, 22.5, 20.5, 21.5, 19.5, 23.0, 21.0, 22.5, 20.5, 23.5],
];
const SON_ENS_B = [
  [10.5, 9.0, 12.0, 8.5, 10.0, 11.5, 9.5, 12.5, 10.0, 11.0, 13.0, 10.5, 12.0, 9.5, 13.5, 11.5, 12.5, 10.5, 14.0, 12.0, 13.0, 11.0, 14.5, 12.5, 13.5, 15.0, 12.0, 14.0, 13.0, 15.5, 13.5, 14.5, 12.5, 16.0, 14.5, 15.0, 13.5, 16.5, 15.0, 14.0, 16.5, 15.5, 16.0],
  [9.5, 7.5, 10.5, 8.0, 11.0, 9.0, 7.0, 10.0, 11.5, 8.5, 10.0, 12.0, 9.0, 11.0, 10.0, 12.5, 9.5, 11.5, 13.0, 10.5, 12.0, 11.0, 13.5, 10.5, 12.5, 14.0, 11.5, 13.0, 12.0, 14.5, 12.5, 13.5, 11.5, 15.0, 13.0, 14.0, 12.5, 15.5, 14.0, 13.0, 16.0, 14.5, 15.5],
  [5.5, 3.5, 6.5, 4.5, 7.5, 5.0, 3.0, 6.0, 7.0, 4.5, 6.5, 5.0, 7.5, 5.5, 8.0, 6.0, 4.5, 7.5, 6.5, 8.5, 5.5, 7.0, 8.5, 6.0, 9.0, 7.5, 6.5, 9.0, 7.0, 8.5, 6.5, 9.5, 8.0, 7.0, 10.0, 8.5, 9.5, 7.5, 10.5, 9.0, 8.0, 10.5, 9.5],
  [6.0, 4.0, 7.0, 5.5, 3.5, 6.5, 5.0, 7.5, 4.0, 6.0, 8.0, 5.5, 7.0, 4.5, 7.5, 6.0, 8.5, 6.5, 5.0, 8.0, 7.0, 9.0, 6.0, 7.5, 9.5, 7.0, 8.5, 6.5, 9.5, 8.0, 10.0, 7.5, 9.0, 8.0, 10.5, 8.5, 9.5, 7.5, 11.0, 9.0, 10.0, 8.5, 10.5],
  [8.5, 7.0, 9.5, 6.5, 8.0, 10.0, 7.5, 9.0, 6.5, 9.5, 8.0, 10.5, 7.5, 9.0, 11.0, 8.5, 10.0, 9.0, 11.5, 9.5, 10.5, 8.5, 12.0, 10.0, 11.0, 9.5, 12.5, 10.5, 11.5, 13.0, 11.0, 12.0, 10.5, 13.5, 11.5, 12.5, 14.0, 12.0, 13.0, 11.5, 14.5, 12.5, 13.5],
  [4.5, 6.5, 3.5, 5.0, 7.0, 4.0, 6.0, 5.0, 7.5, 4.5, 6.5, 5.5, 8.0, 6.0, 4.5, 7.5, 6.5, 8.5, 5.5, 7.0, 6.0, 9.0, 7.0, 5.5, 8.5, 7.5, 9.5, 6.5, 8.0, 7.0, 10.0, 8.0, 6.5, 9.5, 8.5, 10.5, 7.5, 9.0, 8.0, 11.0, 8.5, 10.0, 9.0],
];

const PANELS = [
  { title: 'DJF', min: -9, max: 9, yTicks: DJF_YTICKS, era: DJF_ERA, med: [DJF_585, DJF_245, DJF_126], ens: DJF_ENS, ensB: DJF_ENS_B },
  { title: 'MAM', min: -3, max: 15, yTicks: MAM_YTICKS, era: MAM_ERA, med: [MAM_585, MAM_245, MAM_126], ens: MAM_ENS, ensB: MAM_ENS_B },
  { title: 'JJA', min: 9, max: 27, yTicks: JJA_YTICKS, era: JJA_ERA, med: [JJA_585, JJA_245, JJA_126], ens: JJA_ENS, ensB: JJA_ENS_B },
  { title: 'SON', min: 0, max: 18, yTicks: SON_YTICKS, era: SON_ERA, med: [SON_585, SON_245, SON_126], ens: SON_ENS, ensB: SON_ENS_B },
];

// ---------- layout ----------
const LAYOUT = [
  { left: 35, top: 33, width: 346, height: 202, labels: false, titleY: 21 },
  { left: 450, top: 33, width: 347, height: 202, labels: false, titleY: 21 },
  { left: 35, top: 277, width: 346, height: 201, labels: true, titleY: 264 },
  { left: 450, top: 277, width: 347, height: 202, labels: true, titleY: 264 },
];
const FONT = 'DejaVu Sans';
const fmtMinus = (v: number) => (v < 0 ? '\u2212' + Math.abs(v) : String(v));

function ensSeries(i: number, arr: number[], years: number[], color: string) {
  return {
    type: 'line', xAxisIndex: i, yAxisIndex: i, symbol: 'none', silent: true,
    data: arr.map((v, j) => [years[j], v]),
    lineStyle: { width: 1, color, opacity: 0.75 },
    itemStyle: { color },
  };
}

function buildOption() {
  const series: any[] = [];
  PANELS.forEach((p, i) => {
    p.ens.forEach((arr, k) => series.push(ensSeries(i, arr, ENS_YEARS, ENS_COLORS[k % ENS_COLORS.length])));
    p.ensB.forEach((arr, k) => series.push(ensSeries(i, arr, ENS_YEARS_B, ENS_COLORS_B[k % ENS_COLORS_B.length])));
    p.med.forEach((arr, m) => {
      series.push({
        type: 'line', name: SERIES_NAMES[m], xAxisIndex: i, yAxisIndex: i, symbol: 'none', silent: true,
        data: arr.map((v, j) => [MED_START + j, v]),
        lineStyle: { width: 5, color: SERIES_COLORS[m], join: 'round', cap: 'round' },
        itemStyle: { color: SERIES_COLORS[m] },
      });
    });
    series.push({
      type: 'line', name: SERIES_NAMES[3], xAxisIndex: i, yAxisIndex: i, symbol: 'none', silent: true,
      data: p.era.map((v, j) => [ERA_START + j, v]),
      lineStyle: { width: 5, color: SERIES_COLORS[3], join: 'round', cap: 'round' },
      itemStyle: { color: SERIES_COLORS[3] },
    });
  });

  return {
    animation: false,
    backgroundColor: '#ffffff',
    grid: LAYOUT.map((l) => ({
      left: l.left, top: l.top, width: l.width, height: l.height,
      show: true, borderColor: '#b5b5b5', borderWidth: 1, backgroundColor: 'transparent',
    })),
    xAxis: LAYOUT.map((l, i) => ({
      type: 'value', gridIndex: i, min: 1961, max: 2100,
      axisLine: { show: false },
      axisTick: { show: true, customValues: X_TICKS, length: 3, lineStyle: { color: '#999' } },
      axisLabel: {
        show: l.labels, customValues: X_LABELS, formatter: (v: number) => String(v),
        fontSize: 16, fontFamily: FONT, color: '#1a1a1a', margin: 6,
      },
      splitLine: { show: true, lineStyle: { color: ['#ebebeb', '#d2d2d2'], width: 1 } },
    })),
    yAxis: PANELS.map((p, i) => ({
      type: 'value', gridIndex: i, min: p.min, max: p.max, interval: 1,
      axisLine: { show: false },
      axisTick: { show: true, length: 3, lineStyle: { color: '#999' } },
      axisLabel: {
        customValues: p.yTicks, formatter: fmtMinus, fontSize: 16, fontFamily: FONT, color: '#1a1a1a', margin: 6,
      },
      splitLine: { show: true, lineStyle: { color: ['#d2d2d2', '#ebebeb', '#ebebeb'], width: 1 } },
    })),
    legend: {
      data: SERIES_NAMES.map((n) => ({ name: n })),
      orient: 'vertical', left: 458, top: 40,
      icon: 'rect', itemWidth: 30, itemHeight: 5, itemGap: 4,
      padding: [3, 9, 5, 4],
      backgroundColor: 'rgba(255,255,255,0.8)', borderColor: '#cccccc', borderWidth: 1, borderRadius: 4,
      selectedMode: false,
      textStyle: { fontFamily: FONT, fontSize: 13.5, color: '#222', lineHeight: 16, padding: [0, 0, 0, 5] },
    },
    graphic: PANELS.map((p, i) => ({
      type: 'text',
      x: LAYOUT[i].left + LAYOUT[i].width / 2,
      y: LAYOUT[i].titleY,
      style: {
        text: p.title, fontSize: 20, fontWeight: 'bold', fontFamily: FONT, fill: '#000',
        align: 'center', verticalAlign: 'middle',
      },
    })),
    series,
  };
}

export default function App() {
  const ref = useRef<HTMLDivElement>(null);
  useEffect(() => {
    if (!ref.current) return;
    const chart = echarts.init(ref.current, undefined, { renderer: 'svg' });
    chart.setOption(buildOption() as any);
    return () => chart.dispose();
  }, []);
  return (
    <div style={{ position: 'absolute', left: 0, top: 0, width: 789, height: 502, overflow: 'hidden', background: '#fff' }}>
      <div ref={ref} style={{ width: 800, height: 502 }} />
    </div>
  );
}
